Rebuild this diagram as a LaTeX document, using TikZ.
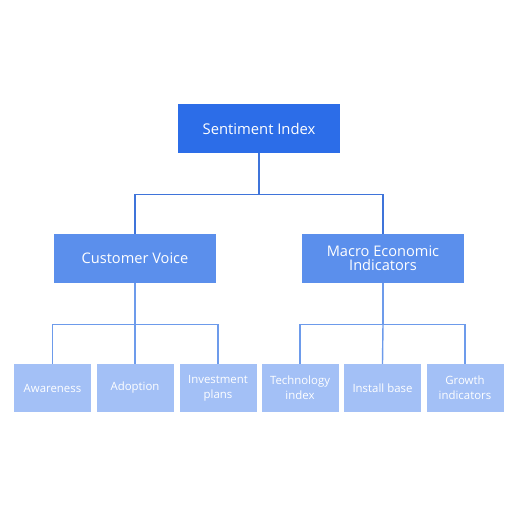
\documentclass[tikz,border=0pt]{standalone}
\usepackage{fontspec}
\setmainfont{Open Sans}
\definecolor{topc}{HTML}{2C6DE8}
\definecolor{midc}{HTML}{5B8FEC}
\definecolor{botc}{HTML}{A3C0F6}
\definecolor{linetop}{HTML}{3F74DA}
\definecolor{linemid}{HTML}{6D9BEB}
\begin{document}
\begin{tikzpicture}[x=1pt,y=-1pt,
  box/.style={draw=none,text=white,align=center,inner sep=0pt},
  topbox/.style={box,fill=topc,minimum width=162pt,minimum height=49pt,font=\fontsize{14.8}{17}\selectfont},
  midbox/.style={box,fill=midc,minimum width=162pt,minimum height=49pt,font=\fontsize{14.6}{14}\selectfont},
  botbox/.style={box,fill=botc,minimum width=77pt,minimum height=48pt,font=\fontsize{11.4}{15}\selectfont},
  conn/.style={line width=1.4pt},
]
\useasboundingbox (0,0) rectangle (520,520);
\node[topbox] (top) at (259,128.5) {Sentiment Index};
\node[midbox] (cv) at (135,258.5) {Customer Voice};
\node[midbox] (mi) at (383,258.5) {Macro Economic\\Indicators};
\node[botbox] (b1) at (52.5,388) {Awareness};
\node[botbox] (b2) at (135,388) {Adoption};
\node[botbox] (b3) at (218,388) {Investment\\plans};
\node[botbox] (b4) at (300,388) {Technology\\index};
\node[botbox] (b5) at (382.5,388) {Install base};
\node[botbox] (b6) at (465,388) {Growth\\indicators};
\draw[conn,linetop] (top.south) -- ++(0,41) coordinate (j0) -| (cv.north);
\draw[conn,linetop] (j0) -| (mi.north);
\draw[conn,linemid] (cv.south) -- ++(0,41) coordinate (j1) -| (b1.north);
\draw[conn,linemid] (j1) -- (b2.north);
\draw[conn,linemid] (j1) -| (b3.north);
\draw[conn,linemid] (mi.south) -- ++(0,41) coordinate (j2) -| (b4.north);
\draw[conn,linemid] (j2) -- (b5.north);
\draw[conn,linemid] (j2) -| (b6.north);
\end{tikzpicture}
\end{document}
